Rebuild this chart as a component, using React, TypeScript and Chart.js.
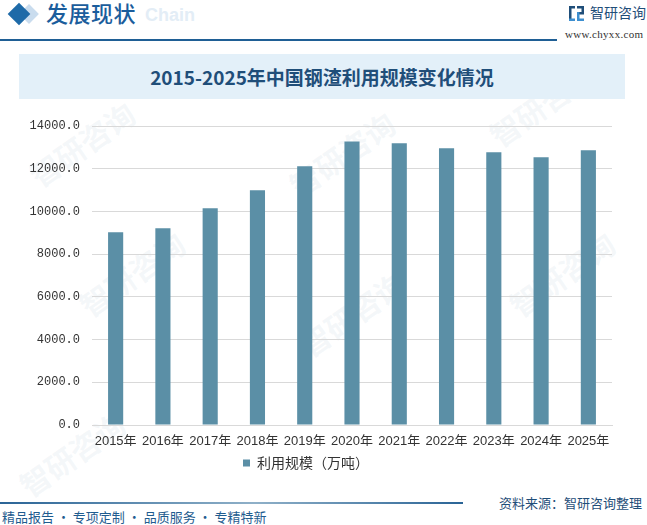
import React, { useEffect, useRef } from "react";
import { Chart, registerables } from "chart.js";

Chart.register(...registerables);

const categories = ["2015年", "2016年", "2017年", "2018年", "2019年", "2020年", "2021年", "2022年", "2023年", "2024年", "2025年"];
const seriesName = "利用规模（万吨）";
const values = [9020, 9210, 10150, 10990, 12110, 13280, 13190, 12960, 12770, 12540, 12860];
const yTicks = [0, 2000, 4000, 6000, 8000, 10000, 12000, 14000];

const CJK = '"Noto Sans CJK SC", "Noto Sans", sans-serif';

function Watermark({ x, y }: { x: number; y: number }) {
  return (
    <div
      style={{
        position: "absolute",
        left: x,
        top: y,
        transform: "rotate(-35deg)",
        transformOrigin: "left top",
        color: "rgba(190,205,222,0.16)",
        fontFamily: CJK,
        fontWeight: 700,
        fontSize: 30,
        whiteSpace: "nowrap",
        pointerEvents: "none",
      }}
    >
      智研咨询
    </div>
  );
}

export default function App() {
  const canvasRef = useRef<HTMLCanvasElement | null>(null);

  useEffect(() => {
    if (!canvasRef.current) return;
    const chart = new Chart(canvasRef.current, {
      type: "bar",
      data: {
        labels: categories,
        datasets: [
          {
            label: seriesName,
            data: values,
            backgroundColor: "#5B8FA6",
            borderWidth: 0,
            barPercentage: 0.32,
            categoryPercentage: 1,
          },
        ],
      },
      options: {
        animation: false,
        responsive: false,
        maintainAspectRatio: false,
        devicePixelRatio: 1,
        layout: { padding: { top: 26, right: 35, left: 0, bottom: 0 } },
        plugins: {
          tooltip: { enabled: false },
          legend: {
            position: "bottom",
            labels: {
              boxWidth: 7,
              boxHeight: 7,
              padding: 10,
              color: "#333333",
              font: { family: CJK, size: 14 },
            },
          },
        },
        scales: {
          x: {
            grid: { display: false, drawTicks: false },
            border: { display: true, color: "#d9d9d9", width: 1 },
            ticks: {
              autoSkip: false,
              maxRotation: 0,
              minRotation: 0,
              padding: 9,
              color: "#333333",
              font: { family: '"Liberation Sans", "Noto Sans CJK SC", sans-serif', size: 13 },
            },
            afterFit: (scale: any) => {
              scale.height = 21;
            },
          },
          y: {
            min: 0,
            max: 14000,
            afterBuildTicks: (scale: any) => {
              scale.ticks = yTicks.map((v) => ({ value: v }));
            },
            grid: { color: "#d9d9d9", lineWidth: 1, drawTicks: false },
            border: { display: false },
            ticks: {
              padding: 12,
              color: "#333333",
              font: { family: '"Liberation Mono", monospace', size: 12 },
              callback: (v: any) => Number(v).toFixed(1),
            },
            afterFit: (scale: any) => {
              scale.width = 92;
            },
          },
        },
      },
    });
    return () => chart.destroy();
  }, []);

  return (
    <div
      style={{
        position: "absolute",
        left: 0,
        top: 0,
        width: 647,
        height: 525,
        overflow: "hidden",
        background: "#ffffff",
        fontFamily: CJK,
      }}
    >
      <Watermark x={20} y={160} />
      <Watermark x={70} y={290} />
      <Watermark x={280} y={170} />
      <Watermark x={290} y={330} />
      <Watermark x={480} y={120} />
      <Watermark x={500} y={290} />
      <Watermark x={10} y={470} />

      {/* header */}
      <div style={{ position: "absolute", left: 22, top: 7, width: 14, height: 14, background: "#c9dcee", transform: "rotate(45deg)" }} />
      <div style={{ position: "absolute", left: 11, top: 6, width: 16, height: 16, background: "#1e6aa8", transform: "rotate(45deg)" }} />
      <div style={{ position: "absolute", left: 145, top: 5, fontFamily: '"Liberation Sans", sans-serif', fontWeight: 700, fontSize: 18, color: "#e3edf6" }}>
        Chain
      </div>
      <div style={{ position: "absolute", left: 46, top: -3, fontSize: 22, fontWeight: 500, color: "#1b5d9c", lineHeight: "30px", letterSpacing: 0.5 }}>
        发展现状
      </div>
      <div style={{ position: "absolute", left: 0, top: 39, width: 557, height: 2, background: "#1f5f95" }} />
      <svg style={{ position: "absolute", left: 569, top: 6 }} width="15" height="15" viewBox="0 0 15 15">
        <rect x="0" y="0" width="6" height="2.5" fill="#1f4e79" />
        <rect x="0" y="0" width="2.5" height="15" fill="#1f4e79" />
        <rect x="0" y="12.5" width="6" height="2.5" fill="#3d8fd0" />
        <rect x="8" y="0" width="7" height="2.5" fill="#1f4e79" />
        <rect x="12.5" y="0" width="2.5" height="8" fill="#1f4e79" />
        <rect x="8" y="6" width="7" height="2.5" fill="#1f4e79" />
        <rect x="8" y="6" width="2.5" height="9" fill="#3d8fd0" />
        <rect x="8" y="12.5" width="7" height="2.5" fill="#3d8fd0" />
      </svg>
      <div style={{ position: "absolute", left: 590, top: 2, fontSize: 14, color: "#1f4e79", lineHeight: "20px" }}>智研咨询</div>
      <div style={{ position: "absolute", left: 565, top: 27, fontSize: 11, fontFamily: '"Liberation Serif", serif', color: "#333", lineHeight: "14px", letterSpacing: 0.3 }}>
        www.chyxx.com
      </div>

      {/* title band */}
      <div
        style={{
          position: "absolute",
          left: 19,
          top: 54,
          width: 606,
          height: 45,
          background: "#e3f0f9",
          display: "flex",
          alignItems: "center",
          justifyContent: "center",
          fontSize: 19,
          fontWeight: 700,
          color: "#1f4e79",
        }}
      >
        2015-2025年中国钢渣利用规模变化情况
      </div>

      <canvas ref={canvasRef} width={647} height={380} style={{ position: "absolute", left: 0, top: 100, width: 647, height: 380 }} />

      {/* footer */}
      <div style={{ position: "absolute", left: 0, top: 502, width: 463, height: 2, background: "linear-gradient(90deg, #2a6496 0%, #8fb0c8 55%, #2a6496 100%)" }} />
      <div style={{ position: "absolute", left: 499, top: 494, fontSize: 13, color: "#1f4e79", lineHeight: "18px" }}>资料来源：智研咨询整理</div>
      <div style={{ position: "absolute", left: 2, top: 508, fontSize: 13, color: "#1f5c8f", lineHeight: "18px", whiteSpace: "nowrap" }}>
        精品报告 · 专项定制 · 品质服务 · 专精特新
      </div>
    </div>
  );
}
